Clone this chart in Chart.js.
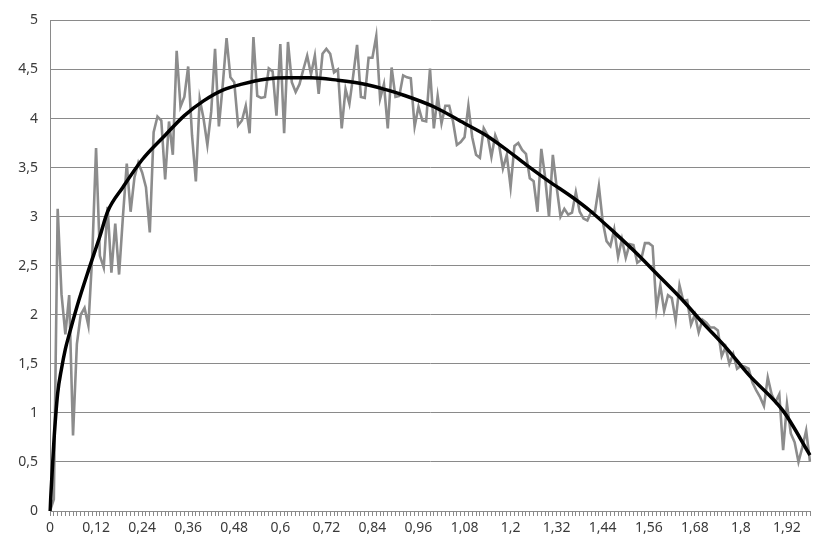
<!DOCTYPE html>
<html>
<head>
<meta charset="utf-8">
<script src="https://cdn.jsdelivr.net/npm/chart.js@4/dist/chart.umd.min.js"></script>
<style>
  html, body { margin: 0; padding: 0; background: #fff; }
  canvas { display: block; }
</style>
</head>
<body>
<canvas id="chart" width="814" height="542"></canvas>
<script>
'use strict';

// x categories: 0 .. 1,98 in steps of 0,01
const categories = Array.from({ length: 199 }, (_, i) => (i / 100).toFixed(2));

// measured (noisy) series, one value per category
const measured = [
  0, 0.12, 3.08, 2.21, 1.8, 2.2, 0.77, 1.7, 2.0, 2.07,
  1.89, 2.6, 3.7, 2.6, 2.48, 3.1, 2.43, 2.93, 2.41, 3.0,
  3.54, 3.05, 3.4, 3.55, 3.45, 3.3, 2.84, 3.86, 4.02, 3.98,
  3.38, 3.97, 3.63, 4.69, 4.12, 4.22, 4.53, 3.83, 3.36, 4.2,
  4.0, 3.73, 4.07, 4.71, 3.92, 4.34, 4.82, 4.42, 4.37, 3.93,
  3.98, 4.13, 3.85, 4.83, 4.23, 4.21, 4.22, 4.51, 4.48, 4.03,
  4.76, 3.85, 4.78, 4.37, 4.27, 4.35, 4.5, 4.64, 4.45, 4.64,
  4.25, 4.66, 4.71, 4.66, 4.47, 4.5, 3.9, 4.3, 4.15, 4.44,
  4.75, 4.22, 4.21, 4.62, 4.62, 4.84, 4.2, 4.35, 3.9, 4.52,
  4.22, 4.23, 4.44, 4.42, 4.41, 3.92, 4.12, 3.98, 3.97, 4.51,
  3.9, 4.23, 3.95, 4.13, 4.13, 3.97, 3.73, 3.76, 3.81, 4.13,
  3.81, 3.63, 3.6, 3.9, 3.83, 3.61, 3.83, 3.73, 3.49, 3.63,
  3.3, 3.72, 3.75, 3.68, 3.64, 3.39, 3.36, 3.05, 3.69, 3.4,
  3.0, 3.63, 3.3, 3.0, 3.08, 3.02, 3.04, 3.25, 3.05, 2.98,
  2.96, 3.05, 3.05, 3.31, 2.95, 2.75, 2.7, 2.87, 2.59, 2.77,
  2.58, 2.72, 2.71, 2.53, 2.56, 2.73, 2.73, 2.7, 2.06, 2.3,
  2.04, 2.2, 2.17, 1.94, 2.3, 2.14, 2.15, 1.9, 2.0, 1.82,
  1.95, 1.92, 1.87, 1.87, 1.84, 1.58, 1.67, 1.5, 1.6, 1.45,
  1.48, 1.47, 1.45, 1.31, 1.23, 1.16, 1.07, 1.36, 1.19, 1.11,
  1.19, 0.62, 1.09, 0.79, 0.7, 0.5, 0.65, 0.82, 0.5
];

// smooth trend curve, read at a few category positions
const trendAt = [0, 1, 2, 3, 4, 5, 7, 10, 13, 15, 19, 24, 30, 35, 40, 45, 50, 56, 62,
  68, 75, 82, 87, 92, 100, 108, 114, 119, 124, 130, 136, 141, 147, 153, 158,
  165, 170, 176, 182, 191, 198];
const trendValues = [0, 0.7, 1.2, 1.45, 1.65, 1.8, 2.08, 2.45, 2.8, 3.05, 3.3, 3.58, 3.83,
  4.03, 4.18, 4.29, 4.35, 4.4, 4.415, 4.415, 4.39, 4.35, 4.3, 4.24, 4.12, 3.95,
  3.82, 3.68, 3.53, 3.36, 3.2, 3.05, 2.84, 2.62, 2.42, 2.14, 1.92, 1.67, 1.39,
  1.02, 0.57];

const yTicks = [0, 0.5, 1, 1.5, 2, 2.5, 3, 3.5, 4, 4.5, 5];

const commaNum = (v) => String(parseFloat(v)).replace('.', ',');
const axisGray = '#8a8a8a';
const textGray = '#3a3a3a';

new Chart(document.querySelector('#chart'), {
  type: 'line',
  data: {
    labels: categories,
    datasets: [
      {
        data: measured,
        borderColor: '#8c8c8c',
        borderWidth: 2.6,
        pointRadius: 0,
        tension: 0,
        order: 2,
      },
      {
        data: trendAt.map((i, k) => ({ x: categories[i], y: trendValues[k] })),
        borderColor: '#000',
        borderWidth: 3.5,
        pointRadius: 0,
        cubicInterpolationMode: 'monotone',
        order: 1,
      },
    ],
  },
  options: {
    responsive: false,
    animation: false,
    layout: { padding: { top: 10, right: -3, left: 0, bottom: 0 } },
    plugins: {
      legend: { display: false },
      tooltip: { enabled: false },
    },
    scales: {
      x: {
        type: 'category',
        offset: false,
        grid: {
          display: true,
          drawOnChartArea: false,
          drawTicks: true,
          tickLength: 5,
          color: axisGray,
        },
        border: { display: true, color: axisGray },
        ticks: {
          autoSkip: false,
          maxRotation: 0,
          minRotation: 0,
          padding: 4,
          color: textGray,
          font: { family: 'Noto Sans', size: 14 },
          callback: (value, index) => (index % 12 === 0 ? commaNum(categories[index]) : ''),
        },
        afterFit: (scale) => { scale.height = 31; },
      },
      y: {
        min: 0,
        max: 5,
        afterBuildTicks: (scale) => { scale.ticks = yTicks.map((v) => ({ value: v })); },
        grid: { color: axisGray, drawTicks: false },
        border: { display: true, color: axisGray },
        ticks: {
          padding: 12,
          color: textGray,
          font: { family: 'Noto Sans', size: 14 },
          callback: (value) => commaNum(value),
        },
        afterFit: (scale) => { scale.width = 50; },
      },
    },
  },
});
</script>
</body>
</html>
